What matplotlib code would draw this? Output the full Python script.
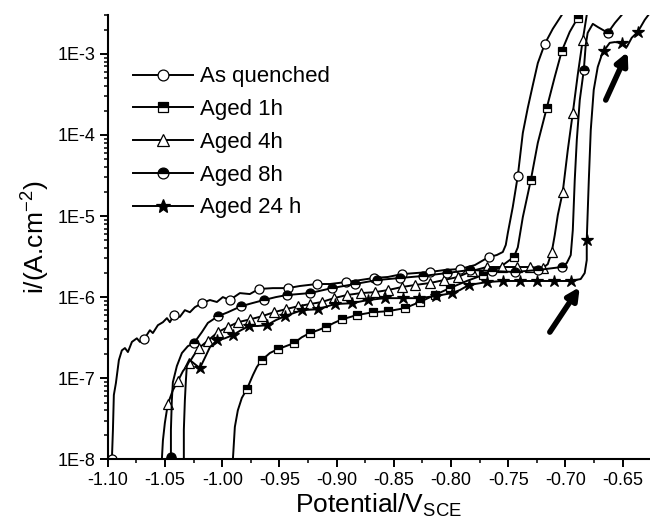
import numpy as np
import matplotlib
matplotlib.use("Agg")
import matplotlib.pyplot as plt
from matplotlib.ticker import FixedLocator, FuncFormatter, LogLocator, MultipleLocator, NullFormatter

plt.rcParams["font.family"] = ["Liberation Sans", "DejaVu Sans"]
plt.rcParams["mathtext.default"] = "regular"
plt.rcParams["axes.unicode_minus"] = False

# ---- data (potential in V vs SCE, current density in A/cm2) ----
aq_x = [-1.0965, -1.0956, -1.0948, -1.0930, -1.0904, -1.0878, -1.0851, -1.0825, -1.0790, -1.0747,
        -1.0720, -1.0685, -1.0633, -1.0607, -1.0563, -1.0519, -1.0484, -1.0458, -1.0423, -1.0371,
        -1.0327, -1.0283, -1.0240, -1.0178, -1.0108, -1.0047, -0.9995, -0.9934, -0.9846, -0.9759,
        -0.9680, -0.9558, -0.9427, -0.9322, -0.9173, -0.9059, -0.8920, -0.8797, -0.8675, -0.8552,
        -0.8430, -0.8308, -0.8185, -0.8054, -0.7923, -0.7792, -0.7670, -0.7600, -0.7547, -0.7521,
        -0.7503, -0.7460, -0.7416, -0.7372, -0.7329, -0.7285, -0.7241, -0.7180, -0.7110, -0.7031,
        -0.6979]
aq_y = [1.0e-8, 2.3e-8, 6.2e-8, 8.7e-8, 1.67e-7, 2.2e-7, 2.35e-7, 2.1e-7, 2.8e-7, 3.1e-7,
        2.8e-7, 3.0e-7, 3.9e-7, 3.6e-7, 4.5e-7, 4.9e-7, 5.5e-7, 4.9e-7, 6.0e-7, 5.7e-7,
        6.9e-7, 6.5e-7, 7.5e-7, 8.4e-7, 9.2e-7, 8.7e-7, 1.0e-6, 9.2e-7, 1.12e-6, 1.09e-6,
        1.26e-6, 1.29e-6, 1.29e-6, 1.37e-6, 1.45e-6, 1.45e-6, 1.53e-6, 1.62e-6, 1.72e-6, 1.77e-6,
        1.92e-6, 1.98e-6, 2.04e-6, 2.16e-6, 2.22e-6, 2.48e-6, 3.12e-6, 3.3e-6, 3.6e-6, 4.4e-6,
        6.2e-6, 1.29e-5, 3.12e-5, 1.06e-4, 2.15e-4, 4.1e-4, 7.7e-4, 1.33e-3, 2.04e-3, 3.03e-3,
        4.0e-3]
aq_mk = [0, 11, 18, 23, 27, 30, 32, 34, 36, 38, 40, 42, 44, 46, 52, 57]

a1_x = [-0.9907, -0.9890, -0.9864, -0.9829, -0.9785, -0.9732, -0.9698, -0.9654, -0.9584, -0.9514,
        -0.9444, -0.9374, -0.9304, -0.9234, -0.9164, -0.9094, -0.9024, -0.8955, -0.8823, -0.8684,
        -0.8552, -0.8404, -0.8273, -0.8142, -0.8011, -0.7862, -0.7722, -0.7582, -0.7451, -0.7416,
        -0.7372, -0.7302, -0.7241, -0.7163, -0.7093, -0.7031, -0.6962, -0.6892, -0.6857]
a1_y = [1.0e-8, 2.5e-8, 4.0e-8, 5.7e-8, 7.3e-8, 1.09e-7, 1.37e-7, 1.67e-7, 2.04e-7, 2.28e-7,
        2.48e-7, 2.7e-7, 3.2e-7, 3.6e-7, 3.9e-7, 4.27e-7, 4.8e-7, 5.3e-7, 6.0e-7, 6.5e-7,
        6.7e-7, 7.3e-7, 8.7e-7, 1.06e-6, 1.29e-6, 1.58e-6, 1.87e-6, 2.28e-6, 3.12e-6, 4.1e-6,
        9.7e-6, 2.78e-5, 8.0e-5, 2.15e-4, 5.2e-4, 1.09e-3, 1.87e-3, 2.78e-3, 3.7e-3]
a1_mk = [4, 7, 9, 11, 13, 15, 17, 18, 19, 20, 21, 22, 23, 24, 26, 28, 31, 33, 35, 37]

a4_x = [-1.0528, -1.0519, -1.0502, -1.0476, -1.0432, -1.0388, -1.0344, -1.0292, -1.0248, -1.0205,
        -1.0126, -1.0038, -0.9951, -0.9864, -0.9759, -0.9654, -0.9549, -0.9444, -0.9339, -0.9234,
        -0.9129, -0.9024, -0.8911, -0.8788, -0.8666, -0.8552, -0.8430, -0.8316, -0.8185, -0.8063,
        -0.7941, -0.7818, -0.7687, -0.7556, -0.7425, -0.7311, -0.7198, -0.7154, -0.7119, -0.7093,
        -0.7066, -0.7023, -0.6979, -0.6935, -0.6892, -0.6848, -0.6813, -0.6795]
a4_y = [1.0e-8, 1.7e-8, 2.8e-8, 4.8e-8, 7.1e-8, 9.2e-8, 1.22e-7, 1.53e-7, 1.92e-7, 2.35e-7,
        2.9e-7, 3.7e-7, 4.27e-7, 4.9e-7, 5.3e-7, 5.8e-7, 6.5e-7, 7.1e-7, 7.7e-7, 8.2e-7,
        8.7e-7, 9.7e-7, 1.06e-6, 1.12e-6, 1.15e-6, 1.22e-6, 1.33e-6, 1.41e-6, 1.49e-6, 1.62e-6,
        1.77e-6, 2.1e-6, 2.35e-6, 2.35e-6, 2.35e-6, 2.35e-6, 2.28e-6, 2.55e-6, 3.6e-6, 5.8e-6,
        1.03e-5, 1.98e-5, 6.5e-5, 1.87e-4, 5.5e-4, 1.49e-3, 3.03e-3, 4.0e-3]
a4_mk = [3, 5, 7, 9] + list(range(10, 37)) + [38, 41, 43, 45]

a8_x = [-1.0449, -1.0449, -1.0441, -1.0432, -1.0397, -1.0353, -1.0301, -1.0248, -1.0178, -1.0126,
        -1.0038, -0.9951, -0.9837, -0.9741, -0.9636, -0.9531, -0.9435, -0.9234, -0.9042, -0.8841,
        -0.8649, -0.8448, -0.8247, -0.8037, -0.7836, -0.7643, -0.7442, -0.7241, -0.7031, -0.6988,
        -0.6953, -0.6935, -0.6918, -0.6900, -0.6874, -0.6839, -0.6822, -0.6805, -0.6760, -0.6717,
        -0.6673, -0.6629, -0.6568, -0.6507, -0.6455]
a8_y = [1.05e-8, 2.3e-8, 5.3e-8, 8.9e-8, 1.41e-7, 2.04e-7, 2.48e-7, 2.7e-7, 3.7e-7, 4.8e-7,
        5.8e-7, 6.5e-7, 7.7e-7, 8.4e-7, 9.2e-7, 1.0e-6, 1.06e-6, 1.12e-6, 1.29e-6, 1.45e-6,
        1.62e-6, 1.72e-6, 1.82e-6, 1.98e-6, 2.16e-6, 2.1e-6, 2.04e-6, 2.16e-6, 2.35e-6, 2.63e-6,
        3.3e-6, 6.7e-6, 2.78e-5, 8.7e-5, 2.7e-4, 6.3e-4, 1.29e-3, 1.82e-3, 2.35e-3, 2.15e-3,
        1.98e-3, 1.82e-3, 2.4e-3, 3.03e-3, 3.8e-3]
a8_mk = [0, 7, 10, 12, 14] + list(range(16, 29)) + [35, 41]

a24_x = [-1.0336, -1.0336, -1.0327, -1.0318, -1.0310, -1.0283, -1.0240, -1.0196, -1.0153, -1.0108,
         -1.0047, -0.9977, -0.9907, -0.9837, -0.9767, -0.9689, -0.9610, -0.9531, -0.9453, -0.9304,
         -0.9164, -0.9016, -0.8867, -0.8727, -0.8579, -0.8421, -0.8281, -0.8133, -0.7993, -0.7923,
         -0.7844, -0.7687, -0.7547, -0.7399, -0.7250, -0.7101, -0.6953, -0.6866, -0.6831, -0.6813,
         -0.6813, -0.6795, -0.6778, -0.6752, -0.6717, -0.6682, -0.6664, -0.6612, -0.6568, -0.6507,
         -0.6463, -0.6420, -0.6367, -0.6306, -0.6254]
a24_y = [1.0e-8, 2.3e-8, 5.3e-8, 9.4e-8, 1.41e-7, 1.67e-7, 1.49e-7, 1.33e-7, 1.77e-7, 2.41e-7,
         2.94e-7, 3.1e-7, 3.4e-7, 3.9e-7, 4.4e-7, 4.4e-7, 4.5e-7, 5.2e-7, 5.8e-7, 6.9e-7,
         7.1e-7, 8.2e-7, 8.4e-7, 9.2e-7, 9.7e-7, 9.7e-7, 9.7e-7, 1.03e-6, 1.12e-6, 1.22e-6,
         1.41e-6, 1.53e-6, 1.58e-6, 1.58e-6, 1.58e-6, 1.58e-6, 1.58e-6, 1.67e-6, 1.98e-6, 2.86e-6,
         5.1e-6, 2.78e-5, 1.15e-4, 3.6e-4, 6.9e-4, 9.7e-4, 1.09e-3, 1.37e-3, 1.4e-3, 1.37e-3,
         1.22e-3, 1.58e-3, 1.87e-3, 2.63e-3, 3.3e-3]
a24_mk = [7, 10, 12, 14, 16, 18] + list(range(19, 29)) + list(range(30, 37)) + [40, 46, 49, 52]

labels = ["As quenched", "Aged 1h", "Aged 4h", "Aged 8h", "Aged 24 h"]

# arrows pointing at the breakdown knees (tail, head)
arrow1 = ((-0.7136, 3.7e-7), (-0.6874, 1.33e-6))
arrow2 = ((-0.6647, 2.7e-4), (-0.6455, 1.06e-3))

fig = plt.figure(figsize=(6.5, 5.26), dpi=100)
ax = fig.add_axes([0.166, 0.127, 0.834, 0.844])

lw = 1.4
common = dict(color="black", lw=lw, markeredgecolor="black", markeredgewidth=0.9)
ax.plot(aq_x, aq_y, marker="o", ms=6.5, mfc="white", markevery=aq_mk, label=labels[0], **common)
ax.plot(a1_x, a1_y, marker="s", ms=6, fillstyle="top", mfc="black", mfcalt="white",
        markevery=a1_mk, label=labels[1], **common)
ax.plot(a4_x, a4_y, marker="^", ms=7, mfc="white", markevery=a4_mk, label=labels[2], **common)
ax.plot(a8_x, a8_y, marker="o", ms=6.5, fillstyle="top", mfc="black", mfcalt="white",
        markevery=a8_mk, label=labels[3], **common)
ax.plot(a24_x, a24_y, marker="*", ms=9, mfc="black", markevery=a24_mk, label=labels[4], **common)

for tail, head in (arrow1, arrow2):
    ax.annotate("", xy=head, xytext=tail,
                arrowprops=dict(arrowstyle="-|>", color="black", lw=4,
                                mutation_scale=18, shrinkA=0, shrinkB=0))

ax.set_yscale("log")
ax.set_xlim(-1.10, -0.626)
ax.set_ylim(1e-8, 3e-3)

ax.xaxis.set_major_locator(FixedLocator(np.round(np.arange(-1.10, -0.64, 0.05), 2)))
ax.xaxis.set_minor_locator(MultipleLocator(0.025))
ax.xaxis.set_major_formatter(FuncFormatter(lambda v, p: f"{v:.2f}"))
ax.yaxis.set_major_locator(FixedLocator([1e-8, 1e-7, 1e-6, 1e-5, 1e-4, 1e-3]))
ax.yaxis.set_major_formatter(FuncFormatter(lambda v, p: f"1E{int(round(np.log10(v)))}"))
ax.yaxis.set_minor_locator(LogLocator(base=10, subs=np.arange(2, 10), numticks=20))
ax.yaxis.set_minor_formatter(NullFormatter())

ax.tick_params(which="major", direction="out", length=6, width=1.4, labelsize=13, pad=3)
ax.tick_params(which="minor", direction="out", length=3, width=1.1)
ax.spines["top"].set_visible(False)
ax.spines["right"].set_visible(False)
ax.spines["left"].set_linewidth(1.5)
ax.spines["bottom"].set_linewidth(1.5)

ax.set_xlabel("Potential/V$_{SCE}$", fontsize=19, labelpad=2)
ax.set_ylabel("i/(A.cm$^{-2}$)", fontsize=19, labelpad=4)

ax.legend(loc="upper left", bbox_to_anchor=(0.03, 0.905), frameon=False, fontsize=16,
          handlelength=2.7, handletextpad=0.3, labelspacing=0.53, markerscale=1.2,
          borderaxespad=0)

fig.savefig("out.png", dpi=100)
